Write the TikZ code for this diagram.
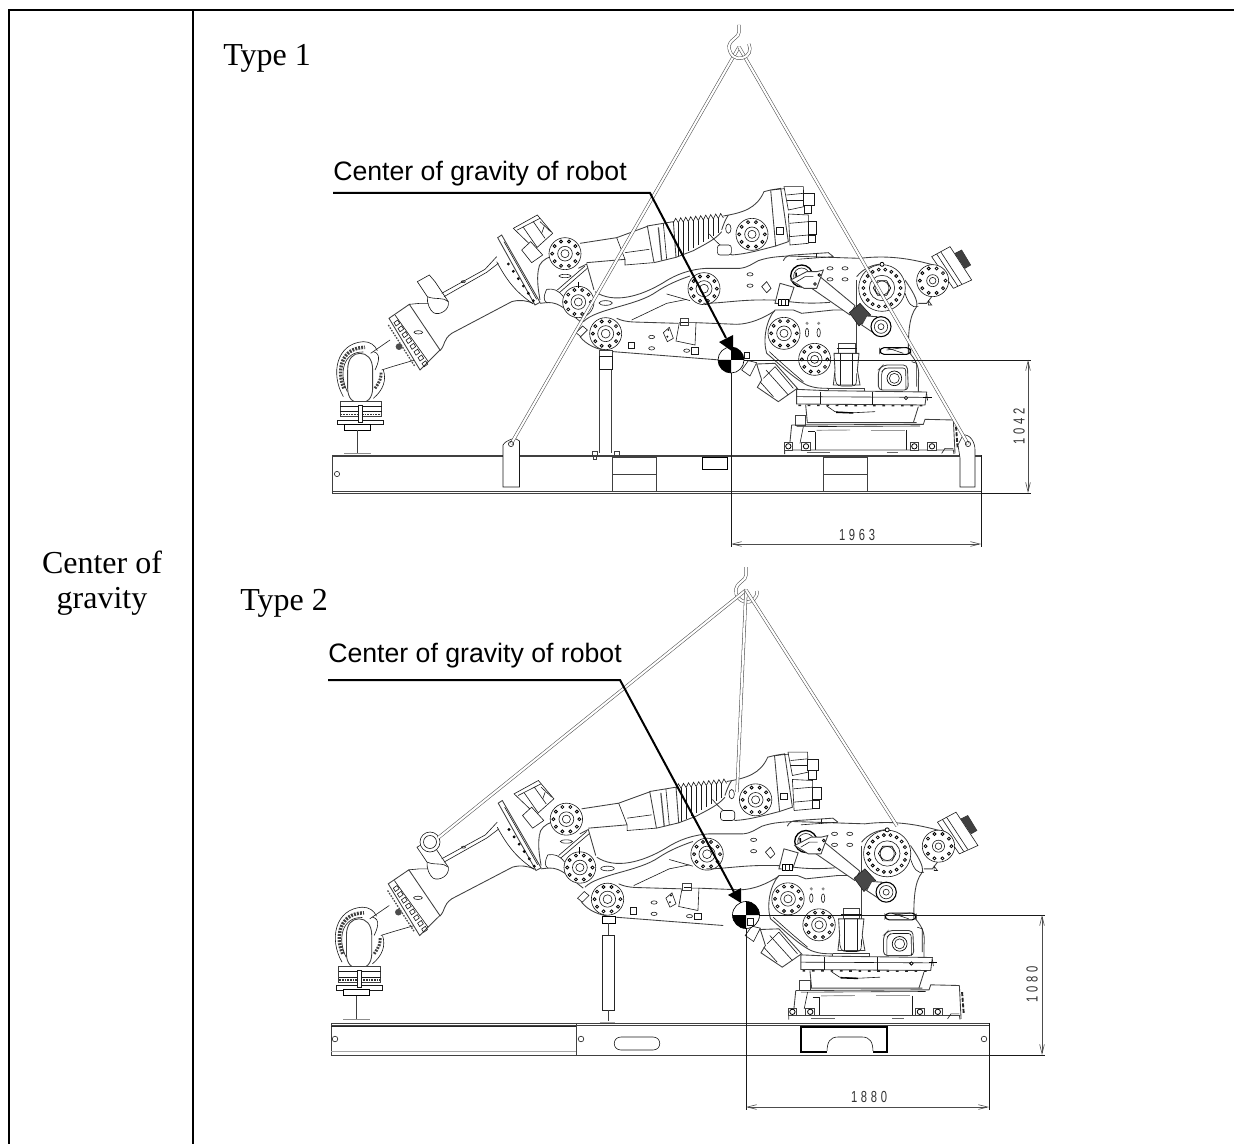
\documentclass[tikz,border=0pt]{standalone}
\usepackage{fontspec}
\usepackage{graphicx}
\setmainfont{Liberation Serif}
\newfontfamily\lblfont{Liberation Sans}
\newfontfamily\dimfont[LetterSpace=33]{Liberation Sans}
\usetikzlibrary{arrows.meta}
\tikzset{
  frameline/.style={line width=1.6pt,black},
  ln/.style={line width=.45pt,black!90},
  lng/.style={line width=.65pt,black!75},
  bolt/.style={line width=.6pt,black,fill=white},
  sling/.style={draw=black!70,line width=.4pt,double=white,double distance=1.6pt},
  dimline/.style={line width=.45pt,black!90},
  dimarrow/.style={line width=.45pt,black!70,{Straight Barb[length=7pt,width=3.5pt]}-{Straight Barb[length=7pt,width=3.5pt]}},
  dimtext/.style={font=\dimfont\fontsize{12pt}{14pt}\selectfont,text=black!80,inner sep=0pt},
  leader/.style={line width=1.5pt,black},
  tabletext/.style={font=\fontsize{24pt}{27pt}\selectfont,inner sep=0pt,anchor=base},
  typetext/.style={font=\fontsize{24pt}{27pt}\selectfont,inner sep=0pt,anchor=base west},
  lbl/.style={font=\lblfont\fontsize{20pt}{24pt}\selectfont,inner sep=0pt,anchor=base west},
}
\newcommand\dimnum[1]{\scalebox{.7}[1]{#1}}
% flange: x y R inner n
\newcommand\flng[5]{%
  \draw[ln,fill=white] (#1,#2) circle[radius=#3];
  \draw[ln] (#1,#2) circle[radius=#4];
  \draw[ln] (#1,#2) circle[radius={#4*0.55}];
  \foreach \a in {1,...,#5}{\draw[bolt] ({#1+#3*0.8*cos(\a*360/#5)},{#2+#3*0.8*sin(\a*360/#5)}) circle[radius=4.5];}
}
\newcommand\hov[2]{\draw[ln] (#1,#2) ellipse[x radius=9,y radius=5];}
\newcommand\vov[2]{\draw[ln] (#1,#2) ellipse[x radius=5,y radius=13];}
\newcommand\cogmark[3]{%
  \draw[line width=.5pt,black,fill=white] (#1,#2) circle[radius=#3];
  \fill[black] (#1,#2) -- ++(#3,0) arc[start angle=0,end angle=-90,radius=#3] -- cycle;
  \fill[black] (#1,#2) -- ++(-#3,0) arc[start angle=180,end angle=90,radius=#3] -- cycle;
}
\newcommand\robotleft{%
  % wrist ring
  \draw[ln] (70,770) .. controls (30,700) and (50,610) .. (130,605) .. controls (150,605) and (165,615) .. (172,632);
  \draw[line width=2.6pt,black!75,dash pattern=on 1.4pt off .9pt] (72,745) .. controls (48,690) and (65,622) .. (135,622);
  \draw[ln] (82,755) .. controls (55,700) and (70,634) .. (130,636);
  \draw[line width=2.2pt,black!75,dash pattern=on 1.4pt off .9pt] (165,745) .. controls (180,725) and (185,710) .. (183,695);
  \draw[ln] (160,775) .. controls (190,750) and (200,720) .. (190,690);
  % wrist arm
  \draw[ln] (152,640) -- (210,600);
  \draw[ln] (160,635) .. controls (185,640) and (175,670) .. (165,690);
  \draw[ln] (185,690) .. controls (215,680) and (250,670) .. (285,660);
  % oval
  \draw[lng,fill=white] (83,690) .. controls (83,655) and (100,640) .. (120,640) .. controls (140,640) and (158,655) .. (158,690) -- (158,745) .. controls (158,775) and (140,790) .. (120,790) .. controls (100,790) and (83,775) .. (83,745) -- cycle;
  % yoke and foot
  \draw[lng,fill=white] (60,783) rectangle (185,830);
  \draw[ln] (60,798) -- (185,798); \draw[ln] (60,815) -- (185,815);
  \draw[line width=1.2pt,black!80,dash pattern=on 1.2pt off .8pt] (62,824) -- (182,824);
  \draw[ln,fill=white] (52,840) rectangle (190,853);
  \draw[line width=.7pt,black,fill=white] (73,853) rectangle (152,870);
  \draw[ln,fill=white] (114,795) rectangle (127,846);
  \draw[lng] (113,870) -- (113,940);
  \draw[line width=.8pt,black!45] (73,941) -- (152,941);
  % disc
  \draw[lng,fill=white] (207,535) -- (268,493) -- (360,630) -- (300,690) -- cycle;
  \draw[ln] (225,525) -- (325,665);
  \foreach \t in {0,...,7}{\draw[ln] ({222+12*\t},{548+17.5*\t}) -- ++(11,-8) -- ++(6,10) -- ++(-11,8) -- cycle;}
  \draw[line width=1pt,black!70,dash pattern=on 1.2pt off 1pt] (205,555) -- (285,680);
  \fill[black!70] (237,620) circle[radius=10];
  \draw[ln] (295,577) ellipse[x radius=13,y radius=5];
  % bell bracket
  \draw[ln,fill=white] (292,425) -- (328,405) -- (345,425) -- (385,485) .. controls (390,510) and (358,528) .. (340,518) .. controls (330,510) and (320,490) .. (322,470) -- cycle;
  \draw[ln] (268,493) -- (300,490) -- (325,490);
  \draw[ln] (322,470) .. controls (345,480) and (370,470) .. (385,485);
  % rods
  \draw[ln] (365,460) -- (495,388) -- (530,350);
  \draw[ln] (372,470) -- (500,397) -- (535,370);
  \draw[ln] (430,425) ellipse[x radius=6,y radius=3];
  % forearm
  \draw[lng] (360,632) .. controls (378,612) and (368,600) .. (395,580) -- (575,485) .. controls (600,478) and (620,482) .. (640,490);
  % plate
  \draw[lng,fill=white] (533,293) -- (545,285) -- (660,487) -- (645,495) -- cycle;
  \draw[ln] (552,305) -- (650,478);
  \foreach \t in {0,...,5}{\draw[bolt] ({565+15*\t},{372+1.0*\t*22}) circle[radius=3];}
  \draw[ln] (530,365) .. controls (560,420) and (585,455) .. (640,492);
  % motor
  \draw[ln,fill=white] (580,265) -- (652,225) -- (698,280) -- (645,328) -- cycle;
  \draw[ln] (592,270) -- (660,235); \draw[ln] (610,262) -- (650,320); \draw[ln] (640,245) -- (675,295);
  \draw[ln] (660,245) -- (692,275); \draw[ln] (672,260) -- (665,280);
  \draw[ln,fill=white] (605,330) -- (632,305) -- (668,345) -- (635,368) -- cycle;
  % elbow body
  \draw[lng] (655,390) .. controls (655,370) and (675,355) .. (692,350);
  \draw[lng] (655,390) .. controls (650,420) and (655,450) .. (660,480);
  \draw[lng] (660,490) .. controls (680,488) and (690,485) .. (710,492) .. controls (740,505) and (755,525) .. (785,548);
  \draw[ln] (680,448) .. controls (670,470) and (670,480) .. (680,488);
  \draw[ln] (680,448) .. controls (700,445) and (715,450) .. (730,470);
  \draw[lng] (775,385) -- (800,372) -- (822,450);
  \draw[ln] (712,450) -- (795,378); \draw[ln] (718,458) -- (802,385);
  \draw[ln] (735,408) ellipse[x radius=18,y radius=5];
  % upper arm
  \draw[lng] (780,310) -- (890,293) -- (985,258);
  \draw[lng] (800,368) -- (915,358);
  \draw[ln] (890,293) -- (915,358) -- (915,375) -- (1000,368);
  \draw[ln] (915,338) -- (988,328);
  \draw[lng,fill=white] (982,258) -- (1060,245) -- (1068,352) -- (1002,368) -- cycle;
  \draw[line width=.9pt,black!70] (1015,262) -- (1025,362);
  \draw[ln] (1030,250) -- (1040,358);
  % bellows
  \draw[ln] (1060,248) foreach \i in {0,...,9} { -- ({1060+15*\i+7},{235-\i*1.6}) -- ({1060+15*\i+15},{248-\i*1.6}) };
  \foreach \i in {0,...,8}{\draw[ln] ({1075+15*\i},{248-\i*1.6}) -- ({1075+15*\i},{350-\i*9});}
  \draw[lng] (1068,352) -- (1120,332) .. controls (1150,315) and (1185,300) .. (1205,275);
  % mid arm upper edge
  \draw[lng] (825,455) .. controls (880,492) and (960,470) .. (1030,428) .. controls (1070,402) and (1110,388) .. (1160,385) -- (1260,385);
  \draw[lng] (790,545) .. controls (830,505) and (950,498) .. (1010,455) .. controls (1040,435) and (1075,420) .. (1110,408);
  \draw[ln] (935,540) -- (1040,490) -- (1100,478);
  \draw[ln] (1040,462) -- (1110,482);
  \draw[ln] (857,489) ellipse[x radius=20,y radius=7];
  % lower arm
  \draw[lng] (890,535) .. controls (905,542) and (920,545) .. (940,546) -- (1075,550);
  \draw[lng] (1128,548) -- (1250,553);
  \draw[lng] (780,590) .. controls (800,615) and (830,630) .. (880,635) -- (1200,660);
  \draw[ln,fill=white] (782,590) -- (768,578) -- (788,558) -- (802,570) -- cycle;
  \draw[ln,fill=white] (924,606) rectangle (943,625);
  \hov{995}{591} \hov{995}{625}
  \draw[ln] (1030,578) -- (1048,562) -- (1060,595) -- (1042,605) -- cycle;
  \draw[ln] (1045,570) circle[radius=2]; \draw[ln] (1042,590) circle[radius=2];
  \draw[ln,fill=white] (1078,548) -- (1128,548) -- (1125,615) -- (1068,603) -- cycle;
  \draw[lng,fill=white] (1080,535) rectangle (1106,556);
  \draw[ln] (1083,546) -- (1103,546);
  \draw[ln,fill=white] (1114,623) rectangle (1135,642);
  \hov{1100}{632}
  \flng{735}{341}{48}{22}{10}
  \flng{775}{486}{47}{22}{10}
  \flng{857}{581}{48}{24}{10}
  \flng{1152}{446}{48}{24}{10}
  \draw[line width=.8pt,black] (775,425) -- (775,445);
}
\newcommand\robotright{%
  % upper arm end body
  \draw[lng] (190,228) .. controls (250,218) and (290,205) .. (312,155) -- (332,150);
  \draw[lng] (215,345) .. controls (260,342) and (300,330) .. (347,318);
  \draw[lng] (205,225) .. controls (195,240) and (190,255) .. (185,270);
  \draw[ln] (148,282) .. controls (170,310) and (200,330) .. (215,345);
  \draw[ln,fill=white,rounded corners=2pt] (172,315) rectangle (214,345);
  \draw[ln] (205,266) ellipse[x radius=8,y radius=14];
  \flng{276}{283}{48}{22}{10}
  % plate and motors
  \draw[lng,fill=white] (332,150) -- (362,145) -- (385,305) -- (347,318) -- cycle;
  \draw[ln] (336,150) -- (372,146);
  \draw[ln,fill=white] (350,262) rectangle (370,282);
  \draw[ln,fill=white] (372,140) -- (430,140) -- (432,200) -- (385,210) -- cycle;
  \draw[ln,fill=white] (430,160) rectangle (462,195);
  \draw[ln,fill=white] (432,195) rectangle (455,220);
  \draw[ln] (380,165) -- (430,160); \draw[ln] (380,180) -- (430,180);
  \draw[ln,fill=white] (385,222) -- (445,225) -- (445,310) -- (390,315) -- cycle;
  \draw[ln,fill=white] (445,245) rectangle (470,282);
  \draw[ln,fill=white] (445,285) rectangle (465,308);
  \draw[ln] (388,250) -- (445,245); \draw[ln] (388,290) -- (445,285);
  % mid arm
  \draw[lng] (240,385) .. controls (265,382) and (275,372) .. (295,362) .. controls (330,350) and (360,350) .. (385,348) -- (600,355) .. controls (680,345) and (750,355) .. (820,375);
  \draw[lng] (130,490) .. controls (190,490) and (240,478) .. (330,480) .. controls (380,480) and (410,495) .. (510,487);
  \draw[lng] (370,362) .. controls (375,350) and (385,345) .. (400,345) -- (505,338) -- (520,350);
  \draw[ln] (410,358) -- (520,350);
  \draw[ln] (470,340) -- (470,355);
  \hov{270}{403} \hov{270}{437} \hov{510}{385} \hov{555}{385} \hov{510}{418} \hov{555}{418}
  \draw[ln] (305,440) -- (320,425) -- (333,445) -- (320,458) -- cycle;
  % lower arm to housing
  \draw[lng] (230,553) .. controls (270,552) and (310,535) .. (345,512);
  % housing
  \draw[lng] (345,510) -- (400,510) -- (425,520) -- (520,510) -- (590,510);
  \draw[lng] (345,510) .. controls (318,540) and (308,600) .. (320,640) .. controls (345,660) and (400,715) .. (440,735) .. controls (465,745) and (485,745) .. (505,745);
  \draw[ln] (328,635) .. controls (360,665) and (400,700) .. (430,725);
  \draw[lng] (590,420) -- (590,640);
  \draw[lng] (590,410) .. controls (610,385) and (640,372) .. (670,372);
  \draw[lng] (735,420) .. controls (755,450) and (775,480) .. (770,500) .. controls (745,530) and (745,590) .. (745,640);
  \draw[ln] (735,460) .. controls (745,490) and (755,505) .. (775,500);
  \draw[lng] (775,490) -- (800,490) -- (815,470);
  \draw[lng] (750,640) .. controls (775,670) and (778,690) .. (775,720) -- (775,755) -- (795,775);
  \draw[ln] (755,665) -- (770,670) -- (770,740);
  % G and cap
  \draw[ln,fill=white] (815,350) -- (870,320) -- (935,420) -- (880,445) -- cycle;
  \draw[ln] (830,342) -- (893,438);
  \draw[ln] (842,335) -- (905,432);
  \draw[black!80,line width=.4pt,fill=black!75] (885,340) -- (905,330) -- (932,375) -- (915,385) -- cycle;
  \draw[ln] (805,482) -- (815,495) -- (805,495) -- cycle;
  \flng{666}{444}{70}{38}{18}
  \draw[line width=.5pt,black] (640,444) -- (653,422) -- (680,422) -- (692,444) -- (680,466) -- (653,466) -- cycle;
  \draw[bolt] (666,373) circle[radius=6];
  \flng{818}{422}{48}{18}{10}
  % link rod
  \draw[lng,fill=white] (480,410) -- (585,497) -- (570,525) -- (455,445) -- cycle;
  \draw[line width=.4pt,black!90,fill=black!72] (568,518) -- (600,490) -- (632,525) -- (597,558) -- cycle;
  \draw[lng,fill=white] (620,528) -- (650,530) -- (680,560) -- (650,585) -- (605,555) -- cycle;
  \draw[line width=.8pt,black,fill=white] (663,560) circle[radius=30];
  \draw[ln] (663,560) circle[radius=20];
  \draw[ln] (663,560) circle[radius=9];
  \draw[line width=1pt,black] (425,408) circle[radius=33];
  \draw[ln,fill=white] (425,408) circle[radius=24];
  \draw[line width=1.2pt,black] (408,398) .. controls (405,415) and (420,425) .. (432,415);
  \draw[lng,fill=white] (392,420) -- (440,395) -- (470,395) -- (490,390) -- (470,445) -- (432,445) -- cycle;
  \draw[ln] (410,425) -- (435,410) -- (460,410); \draw[bolt] (465,432) circle[radius=4]; \draw[bolt] (478,405) circle[radius=4];
  % bracket
  \draw[lng,fill=white] (345,490) -- (360,430) -- (402,442) -- (385,492) -- cycle;
  \draw[line width=.7pt,black,fill=white] (355,478) rectangle (385,495);
  \draw[ln] (365,478) -- (365,495); \draw[ln] (375,478) -- (375,495);
  % slots
  \vov{441}{578} \vov{476}{578}
  \fill[black!45] (441,550) circle[radius=5]; \fill[black!45] (476,550) circle[radius=5];
  \flng{372}{580}{48}{22}{10}
  \flng{464}{658}{48}{22}{10}
  % small motor
  \draw[lng,fill=white] (535,610) -- (585,610) -- (585,640) -- (535,640) -- cycle;
  \draw[ln] (530,625) -- (590,625);
  \draw[lng] (522,640) -- (597,640) -- (592,690) -- (600,735) -- (520,735) -- (525,690) -- cycle;
  \draw[ln] (540,640) -- (540,735); \draw[ln] (578,640) -- (578,735);
  \draw[ln] (525,700) .. controls (525,730) and (530,738) .. (545,738) -- (575,738) .. controls (590,738) and (590,730) .. (590,700);
  \draw[lng] (505,745) -- (505,755);
  \draw[lng] (505,745) -- (612,745) -- (612,755);
  % box
  \draw[lng,fill=white,rounded corners=3pt] (655,750) -- (655,690) -- (670,675) -- (742,675) -- (745,750) -- cycle;
  \draw[ln,rounded corners=2pt] (665,750) -- (665,695) -- (676,684) -- (737,684) -- (738,750);
  \draw[line width=.5pt,black] (703,715) circle[radius=22];
  \draw[ln] (703,715) circle[radius=15];
  % rail
  \draw[line width=.8pt,black,rounded corners=3pt] (660,623) rectangle (752,643);
  \draw[ln] (680,630) -- (735,622); \draw[ln] (680,623) -- (730,640);
  % rear motor
  \draw[ln,fill=white] (245,690) -- (265,662) -- (290,668) -- (270,708) -- cycle;
  \draw[lng,fill=white] (290,672) -- (345,670) -- (412,745) -- (355,785) -- (292,742) -- (305,720) -- cycle;
  \draw[ln] (318,690) -- (385,765); \draw[ln] (345,680) -- (400,745); \draw[ln] (300,725) -- (340,770);
  \draw[ln] (310,715) -- (345,680);
  % turntable
  \draw[lng,fill=white] (410,748) -- (500,752) -- (800,756) -- (795,795) -- (410,792) -- cycle;
  \draw[ln] (480,755) -- (480,792); \draw[ln] (637,755) -- (637,795);
  \draw[line width=1.2pt,black!85,dash pattern=on 2pt off 5pt] (415,796) -- (795,797);
  \draw[ln] (410,770) -- (795,772);
  \draw[line width=.8pt,black] (790,772) -- (815,772); \draw[ln] (800,762) -- (803,782);
  \draw[bolt] (738,774) circle[radius=5];
  % lower body
  \draw[lng] (437,795) -- (442,848) -- (770,848);
  \draw[lng] (775,800) -- (760,848);
  \draw[ln] (500,798) -- (525,815) -- (585,818) -- (645,815);
  \draw[line width=1pt,black] (528,817) -- (580,819);
  \draw[lng] (405,825) rectangle (437,855);
  \draw[lng] (395,855) -- (790,853) -- (795,838) -- (880,840);
  \draw[lng] (395,855) -- (388,925);
  \draw[ln] (410,860) -- (780,858);
  \draw[line width=.7pt,black!40] (470,871) -- (570,870); \draw[line width=.7pt,black!40] (632,870) -- (735,870);
  \draw[ln] (465,875) -- (465,930); \draw[ln] (445,875) -- (465,875);
  \draw[ln] (740,870) -- (740,930);
  \draw[ln] (430,860) -- (420,910);
  \draw[lng] (880,840) -- (885,940);
  \draw[line width=1.4pt,black!85,dash pattern=on 3pt off 1.2pt] (888,860) -- (893,925);
  \draw[lng] (374,942) -- (374,930) -- (880,930) -- (882,942);
  \draw[line width=1pt,black!60] (440,938) -- (510,938); \draw[line width=1pt,black!60] (680,938) -- (715,938);
  \foreach \x in {385,438,763,816}{
    \draw[lng,fill=white] ({\x-13},908) rectangle ({\x+13},930);
    \draw[line width=.6pt,black] (\x,919) circle[radius=8];
  }
  \draw[ln] (845,940) -- (855,925) -- (880,925);
}
\newcommand\robotbody{%
  \begin{scope}[shift={(320,140)},x=.25pt,y=-.25pt]\robotleft\end{scope}
  \begin{scope}[shift={(660,140)},x=.25pt,y=-.25pt]\robotright\end{scope}
}
\begin{document}
\begin{tikzpicture}[x=.75pt,y=-.75pt]
\useasboundingbox (0,0) rectangle (1234,1144);
% table frame
\coordinate (tl) at (9,10); \coordinate (tr) at (1234,10); \coordinate (bl) at (9,1144);
\coordinate (mt) at (193,10); \coordinate (mb) at (193,1144);
\draw[frameline] (bl) -- (tl) -- (tr);
\draw[frameline] (mt) -- (mb);
\node[tabletext] (c1) at (102,573) {Center of};
\node[tabletext] (c2) at (102,608) {gravity};
\node[typetext] (t1) at (223,66) {Type 1};
\node[typetext] (t2) at (240,610) {Type 2};
% ================= TYPE 1
\robotbody
% stand
\begin{scope}[shift={(320,140)},x=.25pt,y=-.25pt]
  \draw[lng] (838,650) -- (838,940); \draw[lng] (875,650) -- (875,940);
  \draw[lng,fill=white] (838,632) rectangle (878,650);
  \draw[ln,fill=white] (838,650) rectangle (876,688);
  \draw[lng] (818,935) rectangle (832,945); \draw[lng] (883,935) rectangle (897,945);
  \draw[lng] (820,945) rectangle (830,958); \draw[lng] (885,945) rectangle (895,958);
\end{scope}
% platform
\draw[lng] (332,455) rectangle (981,493);
\draw[lng] (332,491.5) -- (981,491.5);
\draw[lng] (332,456.8) -- (981,456.8);
\draw[lng,fill=white] (612,457) rectangle (656,491); \draw[lng] (612,474) -- (656,474);
\draw[lng,fill=white] (823,457) rectangle (867,491); \draw[lng] (823,474) -- (867,474);
\draw[line width=.6pt,black] (702,457) rectangle (727,469);
\draw[ln] (337,474) circle[radius=2.6];
% lugs
\draw[ln,fill=white] (503,487) -- (503,445) .. controls (506,440) and (516,436) .. (519.5,441) -- (519.5,487) -- cycle;
\draw[ln,fill=white] (960,487) -- (960,458) -- (958,445) -- (963,435) .. controls (970,434) and (975,442) .. (975,450) -- (975,487) -- cycle;
% hook and slings
\coordinate (apexA) at (739,47);
\coordinate (slA) at (511,444);
\coordinate (srA) at (968,444);
\draw[sling] (apexA) -- (slA);
\draw[sling] (apexA) -- (srA);
\draw[ln] (511,444) circle[radius=2.6]; \draw[ln] (968,444) circle[radius=2.6];
\draw[sling] (739,25) -- (739,32) .. controls (739,38) and (731,38) .. (729,46) .. controls (729,56) and (737,60) .. (742,58) .. controls (750,56) and (751,50) .. (749,44);
% dims
\coordinate (gA) at (731,360);
\coordinate (gAr) at (1031,360); \coordinate (bAr) at (1031,493); \coordinate (bA) at (981,493);
\coordinate (gAb) at (731,547); \coordinate (rAt) at (981,455); \coordinate (rAb) at (981,547);
\draw[dimline] (gA) -- (gAr); \draw[dimline] (bA) -- (bAr);
\draw[dimline] (gA) -- (gAb); \draw[dimline] (rAt) -- (rAb);
\coordinate (a1) at (1028,360); \coordinate (a2) at (1028,493);
\draw[dimarrow] (a1) -- (a2);
\coordinate (a3) at (731,544); \coordinate (a4) at (981,544);
\draw[dimarrow] (a3) -- (a4);
\node[dimtext,rotate=90] (d1042) at (1019,426) {\dimnum{1042}};
\node[dimtext] (d1963) at (857,535) {\dimnum{1963}};
% CoG
\cogmark{731}{360}{13}
\draw[ln,fill=white] (744,352) rectangle (749,358);
% leader
\node[lbl] (la) at (333,181) {Center of gravity of robot};
\coordinate (lA0) at (333,193); \coordinate (lA1) at (650,193); \coordinate (lA2) at (726,338);
\draw[leader] (lA0) -- (lA1) -- (lA2);
\fill[black] (733,335) -- (719,342) -- (733,352) -- cycle;
% ================= TYPE 2
\begin{scope}[shift={(-5.4,565.5)},xscale=1.012]
\robotbody
\end{scope}
% stand
\draw[line width=.7pt,black,fill=white] (602,916) rectangle (615,923);
\draw[lng] (608,923) -- (608,935);
\draw[line width=.7pt,black!85,fill=white] (602,935) rectangle (614,1010);
\draw[lng] (608,1010) -- (608,1021);
\draw[line width=.7pt,black!35] (600,1022) -- (615,1022);
% platform
\draw[lng] (331,1023) rectangle (989,1055);
\draw[lng] (331,1025) -- (989,1025);
\draw[line width=.8pt,black!85] (331,1026.5) -- (576,1026.5);
\draw[line width=.8pt,black!35] (331,1051.5) -- (576,1051.5);
\draw[lng] (576,1023) -- (576,1055);
\draw[ln] (335,1039) circle[radius=2.8]; \draw[ln] (581,1039) circle[radius=2.8]; \draw[ln] (984,1039) circle[radius=2.8];
\draw[ln] (621,1037) -- (653,1037) .. controls (662,1037) and (662,1050) .. (653,1050) -- (621,1050) .. controls (612,1050) and (612,1037) .. (621,1037) -- cycle;
\draw[line width=.8pt,black,fill=white] (801,1027) rectangle (887,1052);
\draw[ln,fill=white] (827,1052) .. controls (827,1042) and (830,1037) .. (838,1037) -- (862,1037) .. controls (870,1037) and (873,1042) .. (873,1052) -- cycle;
\fill[white] (827.4,1051) rectangle (872.6,1053);
% hook and slings
\draw[ln,fill=white] (430,842) circle[radius=10];
\draw[ln] (430,842) circle[radius=6.5];
\coordinate (apexB) at (746,590);
\coordinate (slB) at (438,838);
\coordinate (smB) at (737,792);
\coordinate (srB) at (897,826);
\draw[sling] (746,567) -- (746,575) .. controls (746,581) and (738,581) .. (736,589) .. controls (735,596) and (739,600) .. (745,602) .. controls (751,603) and (758,598) .. (757,591);
\draw[sling] (apexB) -- (slB);
\draw[sling] (apexB) -- (smB);
\draw[sling] (apexB) -- (srB);
% dims
\coordinate (gB) at (746,915);
\coordinate (gBr) at (1045,915); \coordinate (bBr) at (1045,1055); \coordinate (bB) at (989,1055);
\coordinate (gBb) at (746,1110); \coordinate (rBt) at (989,1023); \coordinate (rBb) at (989,1110);
\draw[dimline] (gB) -- (gBr); \draw[dimline] (bB) -- (bBr);
\draw[dimline] (gB) -- (gBb); \draw[dimline] (rBt) -- (rBb);
\coordinate (b1) at (1042,915); \coordinate (b2) at (1042,1055);
\draw[dimarrow] (b1) -- (b2);
\coordinate (b3) at (746,1107); \coordinate (b4) at (989,1107);
\draw[dimarrow] (b3) -- (b4);
\node[dimtext,rotate=90] (d1080) at (1032,984) {\dimnum{1080}};
\node[dimtext] (d1880) at (869,1097) {\dimnum{1880}};
% CoG
\cogmark{746}{915}{13.5}
\draw[ln,fill=white] (747,918) rectangle (753,925);
% leader
\node[lbl] (lb) at (328,662) {Center of gravity of robot};
\coordinate (lB0) at (328,680); \coordinate (lB1) at (620,680); \coordinate (lB2) at (734,892);
\draw[leader] (lB0) -- (lB1) -- (lB2);
\fill[black] (741,888) -- (728,895) -- (741,903) -- cycle;
\end{tikzpicture}
\end{document}
